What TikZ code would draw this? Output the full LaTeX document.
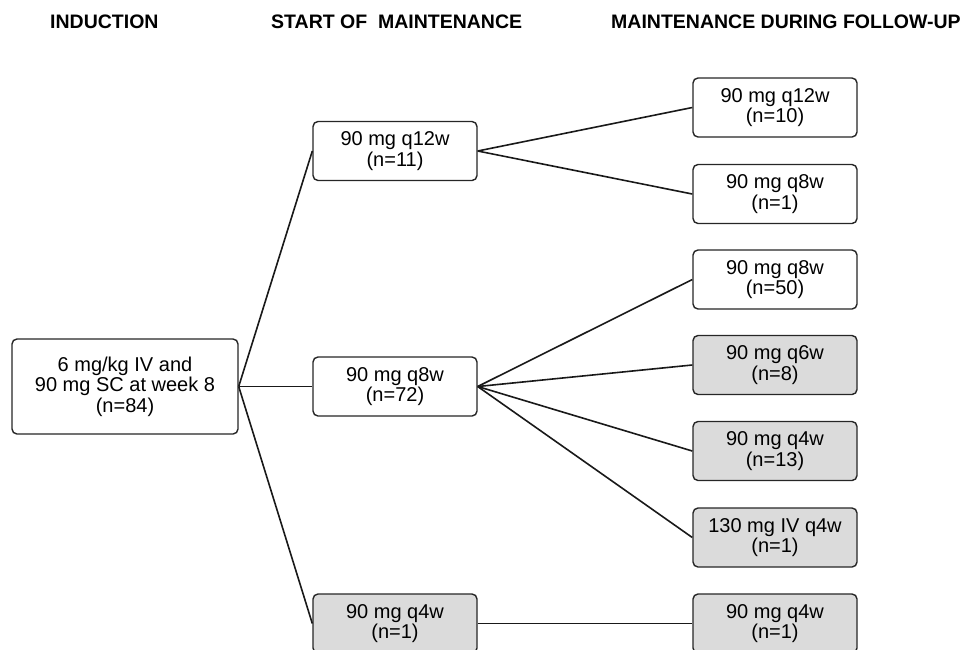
\documentclass[tikz,border=0pt]{standalone}
\usepackage{fontspec}
\setmainfont{Liberation Sans}
\begin{document}
\begin{tikzpicture}[x=1pt,y=-1pt,
  box/.style={draw=black!85, line width=1.4pt, rounded corners=5pt, fill=white,
    minimum width=164pt, minimum height=59pt, inner sep=0pt, align=center,
    font=\fontsize{20}{20.5}\selectfont},
  gbox/.style={box, fill=black!14},
  title/.style={anchor=base west, inner sep=0pt, font=\fontsize{19.5}{20}\selectfont\bfseries},
  conn/.style={line width=1.6pt, draw=black!90}]
\useasboundingbox (0,0) rectangle (960,649);
\node[title] (t1) at (50,28) {INDUCTION};
\node[title] (t2) at (271,28) {START OF\ \ MAINTENANCE};
\node[title] (t3) at (611,28) {MAINTENANCE DURING FOLLOW-UP};

\node[box, minimum width=226pt, minimum height=95pt] (ind) at (125,386.5) {6 mg/kg IV and\\90 mg SC at week 8\\(n=84)};

\node[box] (m1) at (395,151) {90 mg q12w\\(n=11)};
\node[box] (m2) at (395,386.5) {90 mg q8w\\(n=72)};
\node[gbox] (m3) at (395,623.5) {90 mg q4w\\(n=1)};

\node[box] (r1) at (775,107.5) {90 mg q12w\\(n=10)};
\node[box] (r2) at (775,194) {90 mg q8w\\(n=1)};
\node[box] (r3) at (775,279.5) {90 mg q8w\\(n=50)};
\node[gbox] (r4) at (775,365) {90 mg q6w\\(n=8)};
\node[gbox] (r5) at (775,451) {90 mg q4w\\(n=13)};
\node[gbox] (r6) at (775,537.5) {130 mg IV q4w\\(n=1)};
\node[gbox] (r7) at (775,623.5) {90 mg q4w\\(n=1)};

\draw[conn] (ind.east) -- (m1.west);
\draw[conn] (ind.east) -- (m2.west);
\draw[conn] (ind.east) -- (m3.west);
\draw[conn] (m1.east) -- (r1.west);
\draw[conn] (m1.east) -- (r2.west);
\draw[conn] (m2.east) -- (r3.west);
\draw[conn] (m2.east) -- (r4.west);
\draw[conn] (m2.east) -- (r5.west);
\draw[conn] (m2.east) -- (r6.west);
\draw[conn] (m3.east) -- (r7.west);
\end{tikzpicture}
\end{document}
